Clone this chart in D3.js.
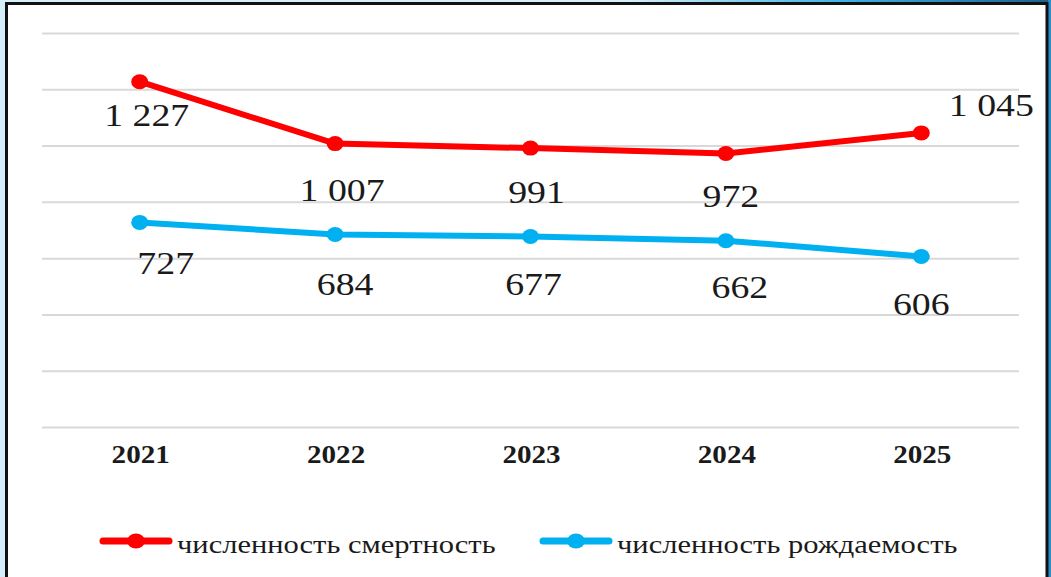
<!DOCTYPE html>
<html><head><meta charset="utf-8">
<script src="https://cdn.jsdelivr.net/npm/d3@7"></script>
<style>
html,body{margin:0;padding:0;background:#d4effa;}
svg{display:block;}
</style></head>
<body>
<svg id="c" width="1051" height="577"></svg>
<script>
const years = ["2021","2022","2023","2024","2025"];
const deaths = [1227, 1007, 991, 972, 1045];
const births = [727, 684, 677, 662, 606];
const deathLabels = ["1 227","1 007","991","972","1 045"];
const birthLabels = ["727","684","677","662","606"];
const yTicks = [0,200,400,600,800,1000,1200,1400];
const seriesNames = ["численность смертность","численность рождаемость"];

// label offsets (style/layout config)
const deathOff = [[7,44],[7,57],[6,55],[5,54],[70,-17]];
const birthOff = [[26,52],[10,60],[3,59],[14,57],[0,59]];

const svg = d3.select("#c");
const W = 1051, H = 577;
const fontSerif = "'Liberation Serif','Times New Roman',serif";

// top-right strip
const grad = svg.append("defs").append("linearGradient").attr("id","g").attr("x1","0").attr("x2","1");
grad.append("stop").attr("offset","0").attr("stop-color","#d4effa");
grad.append("stop").attr("offset","0.5").attr("stop-color","#3fb4e4");
grad.append("stop").attr("offset","1").attr("stop-color","#1d5f8f");
svg.append("rect").attr("x",630).attr("y",0).attr("width",421).attr("height",3).attr("fill","url(#g)");
svg.append("rect").attr("x",1048).attr("y",0).attr("width",3).attr("height",H).attr("fill","#2a8fc8");

// white panel with black border
svg.append("rect").attr("x",6.5).attr("y",3.5).attr("width",1040.5).attr("height",H+10)
  .attr("fill","#fff").attr("stroke","#111").attr("stroke-width",3);

const x = d3.scaleBand().domain(years).range([42,1019]);
const y = d3.scaleLinear().domain([0,1400]).range([427,33]);

const gAxis = svg.append("g").attr("transform","translate(42,0)")
  .call(d3.axisLeft(y).tickValues(yTicks).tickSize(-(1019-42)).tickFormat(""));
gAxis.select(".domain").remove();
gAxis.selectAll(".tick line").attr("stroke","#d9d9d9").attr("stroke-width",2);

const cx = d => x(d) + x.bandwidth()/2;

// x axis labels
svg.append("g").selectAll("text").data(years).join("text")
  .attr("transform", d => `translate(${cx(d)+1},463) scale(1.12,1)`)
  .attr("text-anchor","middle").attr("font-family",fontSerif).attr("font-weight","bold")
  .attr("font-size",26).attr("fill","#1a1a1a").text(d=>d);

function drawSeries(vals, color, labels, offs){
  const pts = years.map((yr,i)=>[cx(yr), y(vals[i])]);
  svg.append("path").datum(pts).attr("d", d3.line())
    .attr("fill","none").attr("stroke",color).attr("stroke-width",6)
    .attr("stroke-linejoin","round").attr("stroke-linecap","round");
  svg.append("g").selectAll("ellipse").data(pts).join("ellipse")
    .attr("cx",d=>d[0]).attr("cy",d=>d[1]).attr("rx",8.5).attr("ry",7.5).attr("fill",color);
  svg.append("g").selectAll("text").data(pts).join("text")
    .attr("transform",(d,i)=>`translate(${d[0]+offs[i][0]},${d[1]+offs[i][1]}) scale(1.22,1)`)
    .attr("text-anchor","middle").attr("font-family",fontSerif).attr("font-size",31)
    .attr("fill","#1a1a1a").text((d,i)=>labels[i]);
}
drawSeries(deaths, "#ff0000", deathLabels, deathOff);
drawSeries(births, "#00b0f0", birthLabels, birthOff);

// legend
const legend = [{name:seriesNames[0], color:"#ff0000", x0:100},{name:seriesNames[1], color:"#00b0f0", x0:540}];
legend.forEach(l=>{
  const g = svg.append("g");
  g.append("line").attr("x1",l.x0+3).attr("x2",l.x0+69).attr("y1",541).attr("y2",541)
    .attr("stroke",l.color).attr("stroke-width",7).attr("stroke-linecap","round");
  g.append("ellipse").attr("cx",l.x0+36).attr("cy",541).attr("rx",9).attr("ry",7.5).attr("fill",l.color);
  g.append("text").attr("transform",`translate(${l.x0+77},553) scale(1.22,1)`)
    .attr("font-family",fontSerif).attr("font-size",25).attr("fill","#1a1a1a").text(l.name);
});
</script>
</body></html>
